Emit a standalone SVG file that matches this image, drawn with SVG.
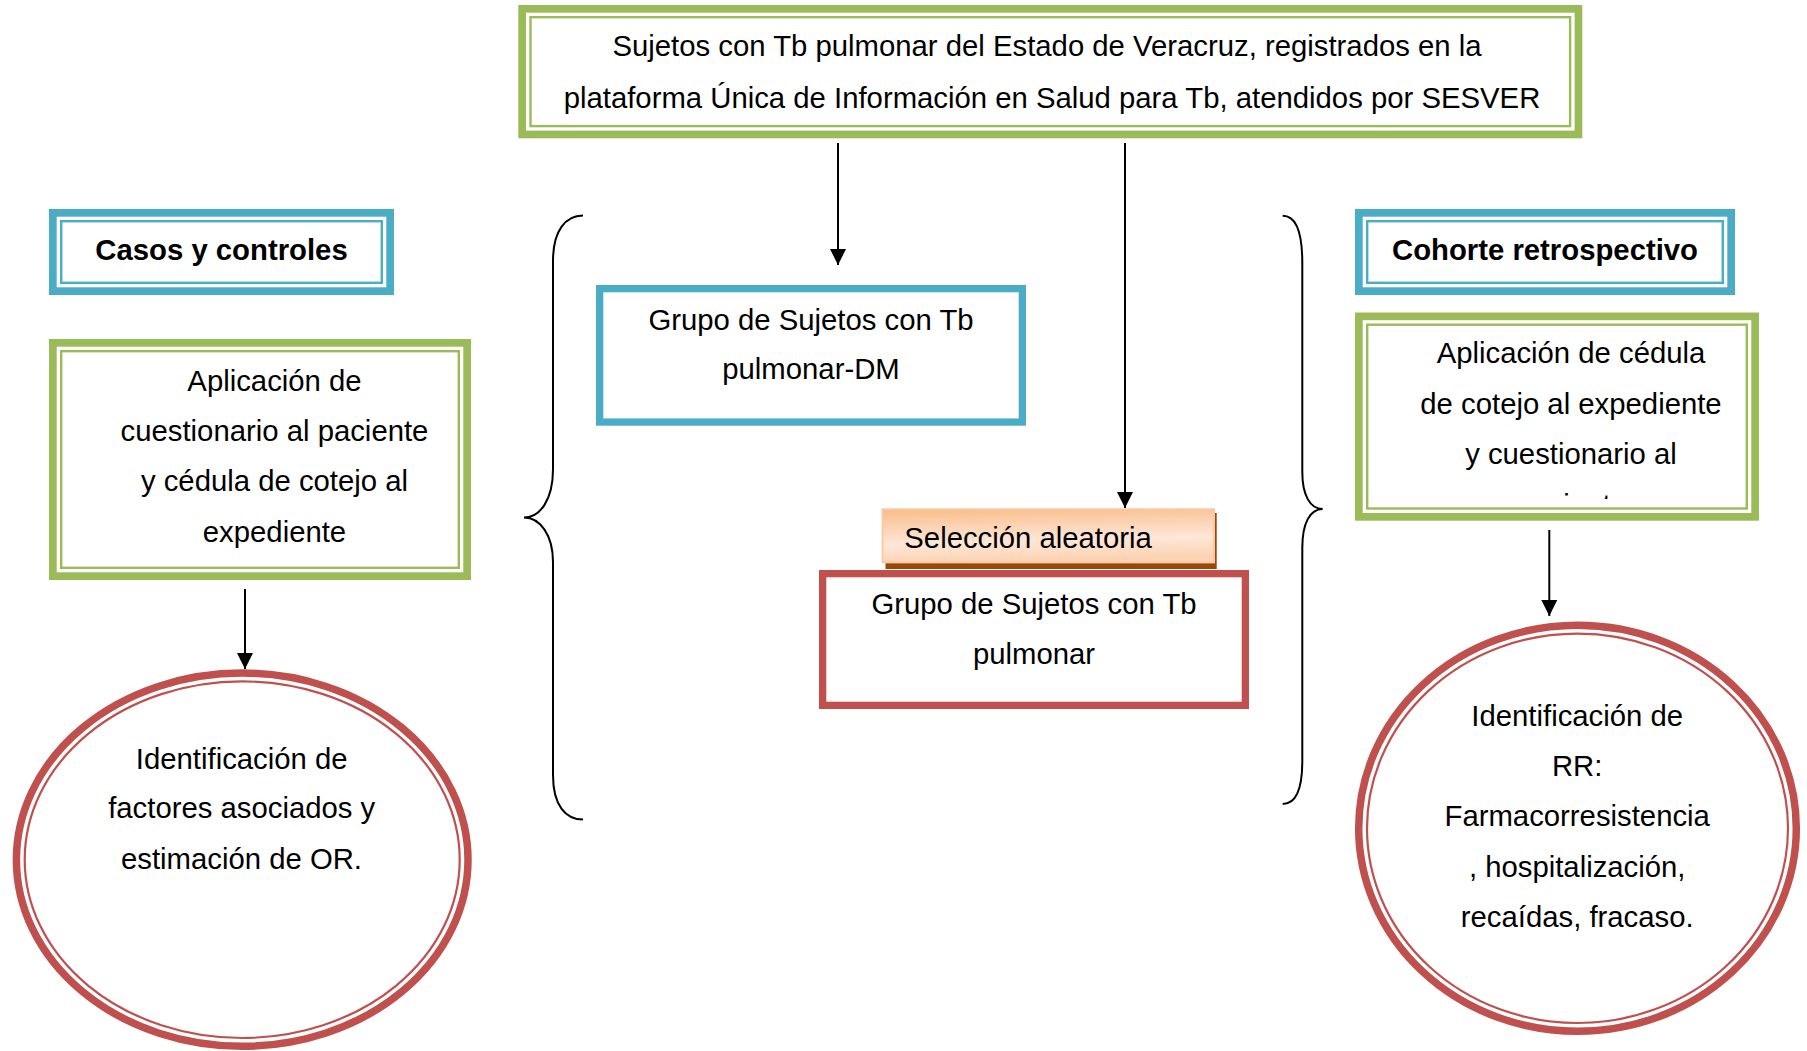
<svg xmlns="http://www.w3.org/2000/svg" width="1807" height="1051" viewBox="0 0 1807 1051">
<style>
text{font-family:"Liberation Sans",Arial,sans-serif;font-size:29.3px;fill:#000}
.b{font-weight:bold}
.m{text-anchor:middle}
.gT{fill:#fff;stroke:#9bbb59;stroke-width:7.7}
.gt{fill:none;stroke:#9bbb59;stroke-width:2.4}
.bT{fill:#fff;stroke:#4bacc6;stroke-width:7.7}
.bt{fill:none;stroke:#4bacc6;stroke-width:2.4}
.rT{fill:#fff;stroke:#c0504d;stroke-width:7.5}
.rt{fill:none;stroke:#c0504d;stroke-width:2.2}
.ln{fill:none;stroke:#000;stroke-width:2}
</style>
<defs>
<marker id="ah" markerUnits="userSpaceOnUse" markerWidth="16" markerHeight="16" viewBox="0 0 16 16" refX="16" refY="8" orient="auto">
<path d="M0,0 L16,8 L0,16 Z" fill="#000"/>
</marker>
<linearGradient id="og" x1="0" y1="0" x2="0.15" y2="1">
<stop offset="0" stop-color="#f9bc88"/>
<stop offset="0.65" stop-color="#fde7d8"/>
<stop offset="1" stop-color="#fbd3b3"/>
</linearGradient>
<clipPath id="cr"><rect x="1368" y="326" width="378" height="173"/></clipPath>
</defs>
<rect width="1807" height="1051" fill="#fff"/>

<g id="top">
<rect class="gT" x="522.15" y="8.85" width="1056.3" height="125.6"/>
<rect class="gt" x="530.5" y="17.2" width="1039.6" height="108.9"/>
<text class="m" x="1047" y="56">Sujetos con Tb pulmonar del Estado de Veracruz, registrados en la</text>
<text class="m" x="1052" y="107.5">plataforma Única de Información en Salud para Tb, atendidos por SESVER</text>
</g>

<g id="casos">
<rect class="bT" x="52.85" y="212.85" width="337.3" height="78.3"/>
<rect class="bt" x="61.2" y="221.2" width="320.6" height="61.6"/>
<text class="b m" x="221.5" y="260">Casos y controles</text>
</g>

<g id="cohorte">
<rect class="bT" x="1358.85" y="212.85" width="372.3" height="78.3"/>
<rect class="bt" x="1367.2" y="221.2" width="355.6" height="61.6"/>
<text class="b m" x="1545" y="260">Cohorte retrospectivo</text>
</g>

<g id="aplic-izq">
<rect class="gT" x="52.85" y="342.85" width="414.3" height="233.3"/>
<rect class="gt" x="61.2" y="351.2" width="397.6" height="216.6"/>
<text class="m" x="274.5" y="390.5">Aplicación de</text>
<text class="m" x="274.5" y="441">cuestionario al paciente</text>
<text class="m" x="274.5" y="491">y cédula de cotejo al</text>
<text class="m" x="274.5" y="541.5">expediente</text>
</g>

<g id="aplic-der">
<rect class="gT" x="1358.85" y="316.35" width="396.3" height="200.5"/>
<rect class="gt" x="1367.2" y="324.7" width="379.6" height="183.8"/>
<text class="m" x="1571" y="362.5">Aplicación de cédula</text>
<text class="m" x="1571" y="413.5">de cotejo al expediente</text>
<text class="m" x="1571" y="464">y cuestionario al</text>
<g clip-path="url(#cr)"><text class="m" x="1571.5" y="514.5">paciente</text></g>
</g>

<g id="grupo-dm">
<rect fill="#fff" stroke="#4bacc6" stroke-width="7.3" x="599.65" y="288.65" width="422.7" height="133.4"/>
<text class="m" x="811" y="329.5">Grupo de Sujetos con Tb</text>
<text class="m" x="811" y="379">pulmonar-DM</text>
</g>

<g id="seleccion">
<rect x="885.5" y="513" width="331.2" height="56" fill="#984807"/>
<rect x="882.5" y="509.2" width="331.6" height="53.3" fill="url(#og)" stroke="#fac8a2" stroke-width="1.8"/>
<text x="904.3" y="547.8">Selección aleatoria</text>
</g>

<g id="grupo-tb">
<rect fill="#fff" stroke="#c0504d" stroke-width="7.3" x="822.65" y="573.65" width="422.7" height="131.7"/>
<text class="m" x="1034" y="614">Grupo de Sujetos con Tb</text>
<text class="m" x="1034" y="664">pulmonar</text>
</g>

<g id="or">
<ellipse class="rT" cx="242.2" cy="859.7" rx="225.8" ry="186.6"/>
<ellipse class="rt" cx="242.2" cy="859.7" rx="217.5" ry="178.3"/>
<text class="m" x="241.7" y="769">Identificación de</text>
<text class="m" x="241.7" y="818">factores asociados y</text>
<text class="m" x="241.5" y="869">estimación de OR.</text>
</g>

<g id="rr">
<ellipse class="rT" cx="1577.5" cy="828.3" rx="218.8" ry="203"/>
<ellipse class="rt" cx="1577.5" cy="828.3" rx="210.5" ry="194.7"/>
<text class="m" x="1577.2" y="725.5">Identificación de</text>
<text class="m" x="1577.2" y="776">RR:</text>
<text class="m" x="1577.2" y="826">Farmacorresistencia</text>
<text class="m" x="1577.2" y="877">, hospitalización,</text>
<text class="m" x="1577.2" y="927">recaídas, fracaso.</text>
</g>

<g id="connectors">
<line class="ln" x1="838" y1="143" x2="838" y2="265" marker-end="url(#ah)"/>
<line class="ln" x1="1125" y1="143" x2="1125" y2="508" marker-end="url(#ah)"/>
<line class="ln" x1="245" y1="589" x2="245" y2="669" marker-end="url(#ah)"/>
<line class="ln" x1="1549.3" y1="530" x2="1549.3" y2="616" marker-end="url(#ah)"/>
<path class="ln" d="M583,215.5 C566,215.5 553,230 553,261 L553,469 C553,500 540,517.5 524,517.5 C540,517.5 553,535 553,562 L553,775 C553,806 566,819.6 583,819.6"/>
<path class="ln" d="M1282.7,215.8 C1296,215.8 1302.3,232 1302.3,263 L1302.3,472 C1302.3,495 1310,509 1322.7,509 C1310,509 1302.3,523 1302.3,548 L1302.3,761 C1302.3,790 1296,804 1282.7,804"/>
</g>
</svg>
